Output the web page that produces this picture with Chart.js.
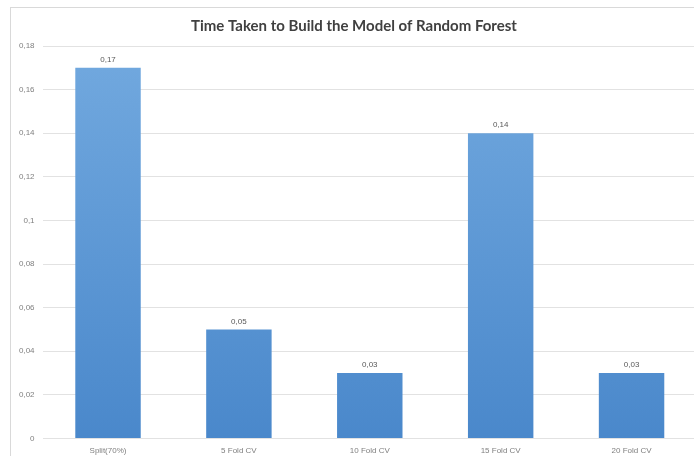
<!DOCTYPE html>
<html>
<head>
<meta charset="utf-8">
<script src="https://cdn.jsdelivr.net/npm/chart.js@4"></script>
<style>
  html, body { margin: 0; padding: 0; background: #fff; overflow: hidden; width: 694px; height: 457px; }
  #wrap { position: absolute; left: 10px; top: 7px; width: 686px; height: 448px; border-left: 1px solid #d9d9d9; border-top: 1px solid #d9d9d9; }
</style>
</head>
<body>
<div id="wrap"><canvas id="c"></canvas></div>
<script>
const categories = ["Split(70%)", "5 Fold CV", "10 Fold CV", "15 Fold CV", "20 Fold CV"];
const timeValues = [0.17, 0.05, 0.03, 0.14, 0.03];
const titleText = "Time Taken to Build the Model of Random Forest";

const fmt = v => (Math.round(v * 100) / 100).toString().replace('.', ',');

const valueLabels = {
  id: 'valueLabels',
  afterDatasetsDraw(chart) {
    const ctx = chart.ctx;
    const meta = chart.getDatasetMeta(0);
    ctx.save();
    ctx.font = '8px "Liberation Sans", Arial, sans-serif';
    ctx.fillStyle = '#595959';
    ctx.textAlign = 'center';
    ctx.textBaseline = 'bottom';
    meta.data.forEach((bar, i) => {
      ctx.fillText(fmt(chart.data.datasets[0].data[i]), bar.x, bar.y - 4);
    });
    ctx.restore();
  }
};

const ctx = document.getElementById('c');
new Chart(ctx, {
  type: 'bar',
  data: {
    labels: categories,
    datasets: [{
      data: timeValues,
      backgroundColor: (c) => {
        const chart = c.chart;
        const area = chart.chartArea;
        if (!area) return '#5b9bd5';
        const g = chart.ctx.createLinearGradient(0, area.top, 0, area.bottom);
        g.addColorStop(0, '#72a9df');
        g.addColorStop(1, '#4a88cb');
        return g;
      },
      borderWidth: 0,
      categoryPercentage: 1.0,
      barPercentage: 0.5
    }]
  },
  options: {
    responsive: true,
    maintainAspectRatio: false,
    animation: false,
    layout: { padding: { left: 0, right: 0, top: 1, bottom: 0 } },
    plugins: {
      legend: { display: false },
      tooltip: { enabled: false },
      title: {
        display: true,
        text: titleText,
        color: '#404040',
        font: { family: 'Lato', size: 15, weight: 'bold' },
        padding: { top: 8, bottom: 11 }
      }
    },
    scales: {
      x: {
        grid: { display: false },
        border: { display: false },
        ticks: { color: '#7f7f7f', font: { size: 8, family: '"Liberation Sans", Arial, sans-serif' }, padding: 0, maxRotation: 0 }
      },
      y: {
        min: 0,
        max: 0.18,
        grid: { color: '#e2e2e2', drawTicks: false },
        border: { display: false },
        ticks: {
          stepSize: 0.02,
          color: '#7f7f7f',
          font: { size: 8, family: '"Liberation Sans", Arial, sans-serif' },
          padding: 8,
          callback: (v) => fmt(v)
        }
      }
    }
  },
  plugins: [valueLabels]
});
</script>
</body>
</html>
